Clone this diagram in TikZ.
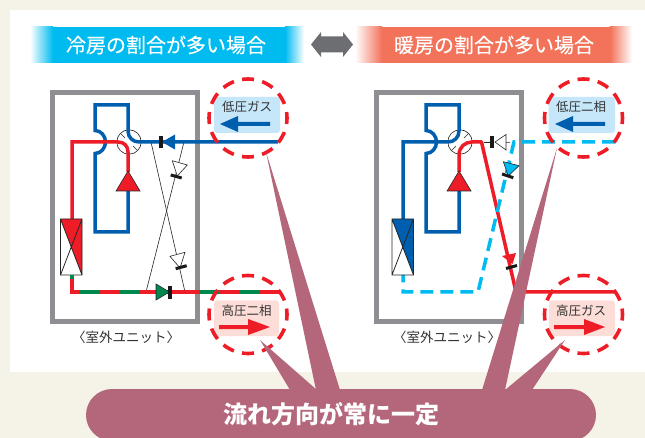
\documentclass[tikz,border=0pt]{standalone}
\usepackage{fontspec}
\setmainfont{Noto Sans CJK JP}
\newfontfamily\titlefont[FakeBold=0.3]{Noto Sans CJK JP}
\usetikzlibrary{calc}
\definecolor{bgc}{HTML}{F5F3E7}
\definecolor{cy}{HTML}{00BBF0}
\definecolor{sal}{HTML}{F3725A}
\definecolor{grayb}{HTML}{8E8E93}
\definecolor{dgray}{HTML}{6D6E71}
\definecolor{bl}{HTML}{005EAE}
\definecolor{rd}{HTML}{ED1C27}
\definecolor{gr}{HTML}{00894F}
\definecolor{pk}{HTML}{B4677A}
\definecolor{lb}{HTML}{C6E7F9}
\definecolor{lr}{HTML}{FDDDD7}
\definecolor{ink}{HTML}{333333}
\tikzset{
  x=1pt,y=-1pt,
  unitbox/.style={draw=grayb,line width=5pt},
  bluepipe/.style={draw=bl,line width=3.5pt},
  redpipe/.style={draw=rd,line width=3.5pt},
  greenpipe/.style={draw=gr,line width=3.5pt},
  cyandash/.style={draw=cy,line width=3.5pt,dash pattern=on 13pt off 7pt},
  thinline/.style={draw=black!85,line width=0.6pt},
  barmark/.style={draw=black!90,line width=3pt},
  ring/.style={draw=rd,line width=3.6pt,dash pattern=on 12pt off 8.42pt,dash phase=6pt},
  tri/.style={draw=black!85,line width=0.6pt,line join=miter},
  lbl/.style={font=\fontsize{12.5pt}{14pt}\selectfont,text=ink,inner sep=0pt},
  unitlbl/.style={font=\fontsize{13.5pt}{15pt}\selectfont,text=ink,inner sep=0pt},
  titlelbl/.style={font=\titlefont\fontsize{20pt}{22pt}\selectfont,text=white,inner sep=0pt},
  hx/.style={draw=black!85,line width=0.8pt},
}
\newcommand{\bigarrow}[3]{% tail x, tip x, colour; y in \ay, head base in \ab
  \fill[#3] (#1,\ay-2) -- (\ab,\ay-2) -- (\ab,\ay-8) -- (#2,\ay) -- (\ab,\ay+8) -- (\ab,\ay+2) -- (#1,\ay+2) -- cycle;}
\begin{document}
\begin{tikzpicture}
\useasboundingbox (0,0) rectangle (645,438);
\clip (0,0) rectangle (645,438);
\fill[bgc] (0,0) rectangle (645,438);
\fill[white] (10,10) rectangle (645,372);
% title bands
\fill[left color=white,right color=cy] (30,27) rectangle (53,63);
\fill[cy] (53,27) rectangle (285,63);
\fill[left color=cy,right color=white] (285,27) rectangle (304,63);
\node[titlelbl] (t1) at (166,45) {冷房の割合が多い場合};
\fill[left color=white,right color=sal] (355,27) rectangle (382,63);
\fill[sal] (382,27) rectangle (610,63);
\fill[left color=sal,right color=white] (610,27) rectangle (632,63);
\node[titlelbl] (t2) at (494,45) {暖房の割合が多い場合};
\fill[dgray] (311,44.5) -- (321,32) -- (321,36.5) -- (343,36.5) -- (343,32) -- (353,44.5) -- (343,57) -- (343,52.5) -- (321,52.5) -- (321,57) -- cycle;
% ---------- left unit
\draw[unitbox] (52.5,92.5) rectangle (197.5,321.5);
% thin cross
\draw[thinline] (151,142) -- (185,292);
\draw[thinline] (184,142) -- (146,292);
% check valves
\filldraw[tri,fill=white] (172.3,160.7) -- (187.3,165) -- (177.3,176) -- cycle;
\draw[barmark] (170.7,175) -- (181.7,178);
\filldraw[tri,fill=white] (170,256.3) -- (185,252.3) -- (180,268) -- cycle;
\draw[barmark] (175.7,268.7) -- (186.7,265.7);
% valve
\draw[thinline] (129,142) circle (12.2);
\draw[thinline] (120.4,133.4) -- (125,138) (137.6,150.6) -- (133,146);
% blue loop
\draw[bluepipe,line join=miter] (128,191) -- (128,232) -- (95,232) -- (95,153.5) .. controls (101,153.5) and (105.5,148) .. (105.5,142) .. controls (105.5,136) and (101,130.5) .. (95,130.5) -- (95,105) -- (128,105) -- (128,131) .. controls (128,137.5) and (133,142) .. (139,142) -- (278,142);
% red
\draw[redpipe] (72,219) -- (72,142) -- (118,142) .. controls (124,142) and (128,146) .. (128,152) -- (128,172);
\filldraw[tri,fill=rd] (128,171) -- (140,191) -- (116,191) -- cycle;
% HX
\fill[rd] (60.5,219) -- (82,219) -- (82,275) -- cycle;
\draw[hx] (60.5,219) rectangle (82,275) (60.5,219) -- (82,275) (82,219) -- (60.5,275);
% two phase line
\draw[redpipe] (72,275) -- (72,292) -- (278.5,292);
\draw[greenpipe] (72,275) -- (72,279);
\foreach \a in {79,119,199,239} \draw[greenpipe] (\a,292) -- (\a+20,292);
\draw[greenpipe] (155,292) -- (170,292);
\filldraw[tri,fill=gr] (156,284) -- (169.5,292) -- (156,300) -- cycle;
\draw[barmark,line width=3.6pt] (170,286) -- (170,299);
% blue arrow on suction
\fill[bl] (162,142) -- (175,134.5) -- (175,149.5) -- cycle;
\draw[barmark,line width=3.6pt] (161,136) -- (161,148);
% bubbles left
\fill[lb,rounded corners=3pt] (214,97) rectangle (280,133);
\node[lbl] (a1) at (247,107) {低圧ガス};
\def\ay{124}\def\ab{238}\bigarrow{270}{220}{bl}
\draw[ring] (248,118) circle (39);
\fill[lr,rounded corners=3pt] (214,300.5) rectangle (279,336);
\node[lbl] (a2) at (246.5,310.5) {高圧二相};
\def\ay{327}\def\ab{248}\bigarrow{219}{270}{rd}
\draw[ring] (248,314.5) circle (39);
\node[unitlbl] (u1) at (126,337) {〈室外ユニット〉};
% ---------- right unit
\draw[unitbox] (376.5,92.5) rectangle (521.5,321.5);
\draw[thinline] (460,142) circle (12.2);
\draw[thinline] (451.4,150.6) -- (456,146) (468.6,133.4) -- (464,138);
% thin stubs and check valve
\draw[thinline,draw=black!60,dash pattern=on 4pt off 2pt] (506,142) -- (513,142);
\filldraw[tri,fill=white] (495,142) -- (506,134.5) -- (506,150) -- cycle;
\draw[barmark,line width=3.6pt] (492,136) -- (492,148);
\draw[thinline] (484,142) -- (490,142);
% blue loop
\draw[bluepipe,line join=miter] (459,191) -- (459,232) -- (426,232) -- (426,153.5) .. controls (432,153.5) and (436.5,148) .. (436.5,142) .. controls (436.5,136) and (432,130.5) .. (426,130.5) -- (426,105) -- (459,105) -- (459,131) .. controls (459,137.5) and (454,142) .. (448,142) -- (403,142) -- (403,219);
% red
\draw[redpipe,line join=round] (459,172) -- (459,155) .. controls (459,147) and (465,142) .. (472,142) -- (481.5,142) -- (516,292) -- (616,292);
\filldraw[tri,fill=rd] (459,171) -- (471,191) -- (447,191) -- cycle;
\fill[rd] (502,256) -- (516,253) -- (512.5,264) -- cycle;
\draw[barmark] (506,268.5) -- (517,265.5);
% cyan
\draw[cyandash] (615,142) -- (514,142) -- (478,292) -- (403,292) -- (403,275);
\filldraw[tri,fill=cy] (503.3,161.7) -- (519,165.7) -- (508.3,176) -- cycle;
\draw[barmark] (502,174) -- (513.3,177.7);
% HX
\fill[bl] (392,219) -- (413.5,219) -- (413.5,275) -- cycle;
\draw[hx] (392,219) rectangle (413.5,275) (392,219) -- (413.5,275) (413.5,219) -- (392,275);
% bubbles right
\fill[lb,rounded corners=3pt] (548.5,97) rectangle (615,133);
\node[lbl] (a3) at (581,107) {低圧二相};
\def\ay{124}\def\ab{573}\bigarrow{605}{555}{bl}
\draw[ring] (583.5,118) circle (39);
\fill[lr,rounded corners=3pt] (549,300.5) rectangle (615,336);
\node[lbl] (a4) at (581,310.5) {高圧ガス};
\def\ay{327}\def\ab{584}\bigarrow{554}{605}{rd}
\draw[ring] (583.5,314.5) circle (39);
\node[unitlbl] (u2) at (447,337) {〈室外ユニット〉};
% ---------- callout
\fill[pk,rounded corners=26pt] (86,389) rectangle (596,441);
\fill[pk] (266,152) -- (316,390) -- (340,390) -- cycle;
\fill[pk] (260,340) -- (290,390) -- (317,390) -- cycle;
\fill[pk] (557,148) -- (482,390) -- (505,390) -- cycle;
\fill[pk] (565,340) -- (505,390) -- (532,390) -- cycle;
\node[font=\fontsize{24pt}{26pt}\selectfont\bfseries,text=white,inner sep=0pt] (msg) at (331,414) {流れ方向が常に一定};
\end{tikzpicture}
\end{document}
